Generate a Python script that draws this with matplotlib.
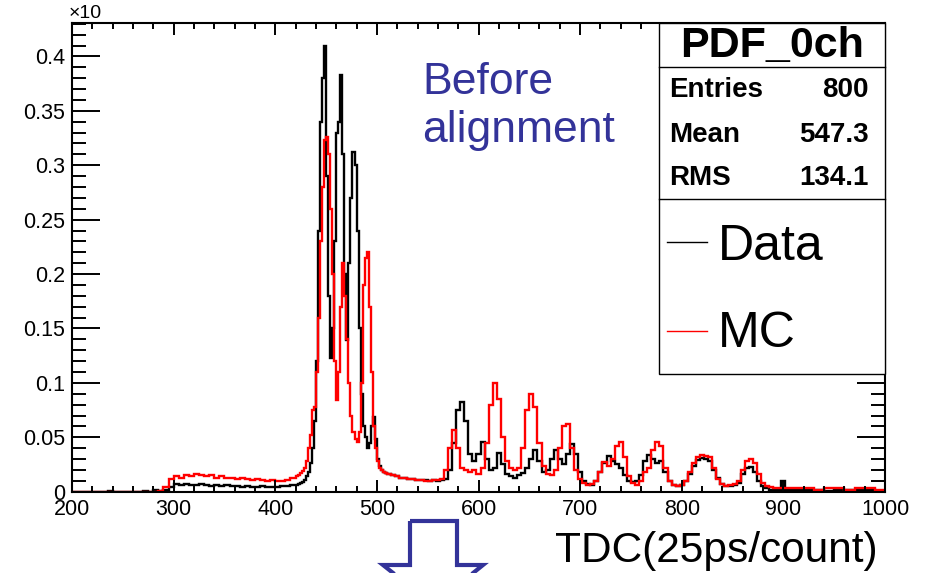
import numpy as np
import matplotlib.pyplot as plt
from matplotlib.patches import Polygon, Rectangle
from matplotlib.lines import Line2D
from matplotlib.ticker import MultipleLocator, FixedLocator, FixedFormatter

plt.rcParams['font.family'] = ['Liberation Sans', 'DejaVu Sans']

# bin edges: coarse in the flat parts, fine around the main peaks
edges_low = np.arange(200, 420, 5)      # 44 bins
edges_peak = np.arange(420, 510, 2)     # 45 bins
edges_mid = np.arange(510, 910, 4)      # 100 bins
edges_tail = np.arange(910, 1001, 10)   # 9 bins (+ closing edge)

# Data histogram (black)
data_low = [0, 0, 0, 0, 0, 0, 0, 0.001, 0, 0, 0, 0, 0, 0, 0.001,
            0, 0.002, 0.001, 0.002, 0.004, 0.007, 0.006, 0.007, 0.006, 0.006,
            0.007, 0.006, 0.005, 0.006, 0.005, 0.006, 0.005, 0.005, 0.004, 0.005,
            0.004, 0.004, 0.005, 0.004, 0.004, 0.004, 0.005, 0.005, 0.006]
data_peak = [0.006, 0.007, 0.008, 0.009, 0.011,
             0.014, 0.018, 0.026, 0.040, 0.065,
             0.120, 0.240, 0.340, 0.380, 0.410,
             0.290, 0.180, 0.123, 0.150, 0.230,
             0.330, 0.340, 0.383, 0.310, 0.200,
             0.139, 0.210, 0.270, 0.312, 0.300,
             0.240, 0.150, 0.090, 0.060, 0.050,
             0.040, 0.045, 0.060, 0.069, 0.048,
             0.030, 0.024, 0.020, 0.018, 0.017]
data_mid = [0.016, 0.015, 0.014, 0.013, 0.013,
            0.012, 0.012, 0.011, 0.011, 0.011,
            0.010, 0.011, 0.010, 0.011, 0.012,
            0.020, 0.045, 0.075, 0.082, 0.065,
            0.035, 0.028, 0.035, 0.046, 0.030,
            0.020, 0.022, 0.036, 0.025, 0.016,
            0.014, 0.013, 0.015, 0.017, 0.022,
            0.030, 0.038, 0.028, 0.018, 0.020,
            0.030, 0.038, 0.030, 0.025, 0.035,
            0.044, 0.035, 0.018, 0.010, 0.007,
            0.006, 0.010, 0.018, 0.026, 0.033,
            0.028, 0.025, 0.022, 0.015, 0.010,
            0.009, 0.010, 0.015, 0.028, 0.034,
            0.030, 0.026, 0.028, 0.018, 0.010,
            0.006, 0.005, 0.006, 0.010, 0.016,
            0.024, 0.029, 0.031, 0.030, 0.028,
            0.020, 0.013, 0.007, 0.005, 0.005,
            0.006, 0.008, 0.016, 0.022, 0.023,
            0.018, 0.010, 0.005, 0.003, 0.002,
            0.002, 0.002, 0.010, 0.002, 0.002]
data_tail = [0.002, 0.002, 0.002, 0.001, 0.002, 0.002, 0.002, 0.002, 0.001]

# MC histogram (red)
mc_low = [0, 0, 0, 0, 0, 0, 0, 0, 0, 0, 0, 0, 0, 0, 0, 0, 0,
          0.001, 0.004, 0.012, 0.014, 0.013, 0.015, 0.014, 0.016, 0.015, 0.014,
          0.015, 0.013, 0.014, 0.013, 0.013, 0.012, 0.013, 0.012, 0.011, 0.012,
          0.011, 0.010, 0.011, 0.010, 0.010, 0.011, 0.013]
mc_peak = [0.014, 0.015, 0.017, 0.019, 0.022,
           0.028, 0.040, 0.052, 0.075, 0.078,
           0.110, 0.160, 0.230, 0.280, 0.323,
           0.326, 0.310, 0.260, 0.200, 0.120,
           0.084, 0.110, 0.170, 0.210, 0.180,
           0.140, 0.100, 0.070, 0.055, 0.048,
           0.046, 0.055, 0.100, 0.190, 0.215,
           0.220, 0.170, 0.110, 0.060, 0.040,
           0.028, 0.022, 0.020, 0.018, 0.017]
mc_mid = [0.016, 0.015, 0.014, 0.013, 0.013,
          0.012, 0.012, 0.011, 0.011, 0.010,
          0.010, 0.011, 0.011, 0.012, 0.020,
          0.040, 0.057, 0.040, 0.022, 0.020,
          0.018, 0.020, 0.016, 0.022, 0.045,
          0.080, 0.100, 0.085, 0.050, 0.028,
          0.022, 0.020, 0.022, 0.040, 0.075,
          0.090, 0.078, 0.045, 0.024, 0.016,
          0.015, 0.020, 0.040, 0.060, 0.062,
          0.040, 0.020, 0.012, 0.008, 0.006,
          0.007, 0.010, 0.018, 0.027, 0.024,
          0.030, 0.042, 0.046, 0.032, 0.014,
          0.008, 0.006, 0.010, 0.018, 0.022,
          0.038, 0.046, 0.042, 0.022, 0.010,
          0.006, 0.005, 0.006, 0.010, 0.018,
          0.026, 0.032, 0.034, 0.033, 0.032,
          0.022, 0.012, 0.007, 0.005, 0.006,
          0.007, 0.010, 0.020, 0.028, 0.030,
          0.026, 0.016, 0.008, 0.005, 0.004,
          0.003, 0.003, 0.003, 0.003, 0.003]
mc_tail = [0.003, 0.003, 0.002, 0.003, 0.003, 0.002, 0.003, 0.003, 0.002]

y_ticks = [0, 0.05, 0.1, 0.15, 0.2, 0.25, 0.3, 0.35, 0.4]
y_tick_labels = ["0", "0.05", "0.1", "0.15", "0.2", "0.25", "0.3", "0.35", "0.4"]

stats_rows = [("Entries", "800"), ("Mean", "547.3"), ("RMS", "134.1")]

edges = np.concatenate([edges_low, edges_peak, edges_mid, edges_tail])
data = np.array(data_low + data_peak + data_mid + data_tail)
mc = np.array(mc_low + mc_peak + mc_mid + mc_tail)

W, H = 926, 573


def fx(px):
    return px / W


def fy(py):
    return 1 - py / H


fig = plt.figure(figsize=(W / 100, H / 100), dpi=100)
ax = fig.add_axes([fx(72), fy(491.7), fx(885) - fx(72), fy(22.7) - fy(491.7)])

ax.stairs(data, edges, color='black', lw=1.7)
ax.stairs(mc, edges, color='red', lw=1.7)

ax.set_xlim(200, 1000)
ax.set_ylim(0, 0.431)

ax.xaxis.set_major_locator(MultipleLocator(100))
ax.xaxis.set_minor_locator(MultipleLocator(20))
ax.yaxis.set_major_locator(FixedLocator(y_ticks))
ax.yaxis.set_major_formatter(FixedFormatter(y_tick_labels))
ax.yaxis.set_minor_locator(MultipleLocator(0.01))

ax.tick_params(which='both', direction='in', top=True, right=True, width=1.4)
ax.tick_params(axis='x', which='major', length=8.6, labelsize=15.5, pad=5)
ax.tick_params(axis='x', which='minor', length=4.3)
ax.tick_params(axis='y', which='major', length=20, labelsize=15.5, pad=5)
ax.tick_params(axis='y', which='minor', length=10)
for s in ax.spines.values():
    s.set_linewidth(1.5)

fig.text(fx(69), fy(14), u"\u00d710", fontsize=14, va='center', ha='left')

# stats / legend box
box = Rectangle((fx(659), fy(374)), fx(885) - fx(659), fy(22.7) - fy(374),
                transform=fig.transFigure, facecolor='white', edgecolor='black',
                lw=1.0, zorder=5)
fig.add_artist(box)
for sep in [67, 199]:
    fig.add_artist(Line2D([fx(659), fx(885)], [fy(sep), fy(sep)],
                          transform=fig.transFigure, color='black', lw=1.0, zorder=6))

fig.text(fx(772), fy(56.7), "PDF_0ch", fontsize=31, fontweight='bold',
         ha='center', va='baseline', zorder=7)
for (name, val), base in zip(stats_rows, [97.3, 141.7, 185]):
    fig.text(fx(669), fy(base), name, fontsize=20, fontweight='bold',
             ha='left', va='baseline', zorder=7)
    fig.text(fx(869), fy(base), val, fontsize=20, fontweight='bold',
             ha='right', va='baseline', zorder=7)

for label, color, ly, base in [("Data", 'black', 242.3, 260), ("MC", 'red', 330.7, 346.7)]:
    fig.add_artist(Line2D([fx(667), fx(707)], [fy(ly), fy(ly)],
                          transform=fig.transFigure, color=color, lw=1.0, zorder=7))
    fig.text(fx(718), fy(base), label, fontsize=36, ha='left', va='baseline', zorder=7)

# annotations from the slide
blue = '#333399'
fig.text(fx(422), fy(93.5), "Before", fontsize=32, color=blue, va='baseline')
fig.text(fx(422), fy(142), "alignment", fontsize=32, color=blue, va='baseline')
fig.text(fx(555), fy(561.7), "TDC(25ps/count)", fontsize=30.5, va='baseline')

arrow_px = [(410, 521), (457, 521), (457, 565), (483, 565), (433.5, 605), (383, 565), (410, 565)]
arrow = Polygon([(fx(x), fy(y)) for x, y in arrow_px], closed=True, fill=False,
                edgecolor=blue, lw=3.0, transform=fig.transFigure, joinstyle='miter')
fig.add_artist(arrow)

fig.savefig("out.png", dpi=100)
